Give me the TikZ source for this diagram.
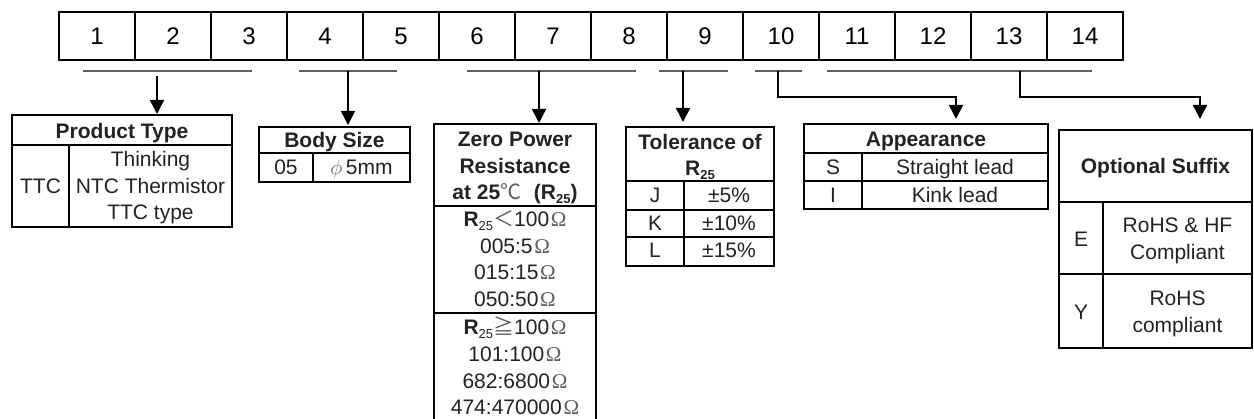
\documentclass[tikz,border=0pt]{standalone}
\usepackage{fontspec}
\setmainfont{Liberation Sans}
\newfontfamily\cjk{Noto Sans CJK SC}
\newfontfamily\sersym{Liberation Serif}
\usetikzlibrary{arrows.meta}
\definecolor{ulgray}{RGB}{95,95,95}
\definecolor{txt}{RGB}{35,35,35}
\definecolor{sym}{RGB}{95,95,95}
\newcommand\Om{{\sersym\color{sym}\hspace{0.08em}Ω}}
\newcommand\Rtf{\textbf{R}\raisebox{-0.35ex}{\fontsize{13}{13}\selectfont 25}}
\newcommand\Rbold{\textbf{R\raisebox{-0.35ex}{\fontsize{13}{13}\selectfont 25}}}
\newcommand\csym[1]{{\cjk\mdseries\color{sym}#1}}
\begin{document}
\begin{tikzpicture}[x=1pt,y=-1pt,
  cell/.style={draw, line width=2pt, minimum width=76pt, minimum height=48pt, inner sep=0pt, font=\fontsize{24}{24}\selectfont},
  tbl/.style={draw, line width=2pt, inner sep=0pt},
  tx/.style={anchor=base, inner sep=0pt, text=txt, font=\fontsize{21}{21}\selectfont},
  hd/.style={anchor=base, inner sep=0pt, text=txt, font=\fontsize{21}{21}\selectfont\bfseries},
  uline/.style={draw=ulgray, line width=2pt},
  sepline/.style={line width=2pt},
  conn/.style={line width=1.6pt, -{Triangle[width=14pt,length=14pt]}}]
\useasboundingbox (0,0) rectangle (1254,419);
\fill[white] (0,0) rectangle (1254,419);

% top code cells
\foreach \i in {1,...,14} \node[cell] (c\i) at ({59+76*\i-38},36) {\i};

% underlines
\coordinate (a1) at (83,71);  \coordinate (b1) at (252,71);
\coordinate (a2) at (299,71); \coordinate (b2) at (397,71);
\coordinate (a3) at (467,71); \coordinate (b3) at (636,71);
\coordinate (a4) at (659,71); \coordinate (b4) at (728,71);
\coordinate (a5) at (755,71); \coordinate (b5) at (802,71);
\coordinate (a6) at (827,71); \coordinate (b6) at (1092,71);
\foreach \k in {1,...,6} \draw[uline] (a\k) -- (b\k);

% tables (outer boxes)
\node[tbl, minimum width=220pt, minimum height=112pt] (pt) at (122,171) {};
\node[tbl, minimum width=151pt, minimum height=55pt] (bs) at (334.5,154.5) {};
\node[tbl, minimum width=162pt, minimum height=297pt] (zp) at (515,272.5) {};
\node[tbl, minimum width=148pt, minimum height=139pt] (to) at (700,196.5) {};
\node[tbl, minimum width=244pt, minimum height=85pt] (ap) at (926,166.5) {};
\node[tbl, minimum width=193pt, minimum height=218pt] (os) at (1155.5,239) {};

% inner lines
\draw[sepline] (12,145) -- (232,145) (69,145) -- (69,227);
\draw[sepline] (259,153) -- (410,153) (313,153) -- (313,182);
\draw[sepline] (434,206) -- (596,206) (434,313) -- (596,313);
\draw[sepline] (626,181) -- (774,181) (626,210) -- (774,210) (626,237) -- (774,237) (684,181) -- (684,266);
\draw[sepline] (804,153) -- (1048,153) (804,181) -- (1048,181) (862,153) -- (862,209);
\draw[sepline] (1059,202) -- (1252,202) (1059,274) -- (1252,274) (1103,202) -- (1103,348);

% Product Type
\node[hd] (pth) at (122,138.5) {Product Type};
\node[tx] (ptk) at (40.5,193.5) {TTC};
\node[tx] (pt1) at (150.5,167) {Thinking};
\node[tx] (pt2) at (150.5,193.5) {NTC Thermistor};
\node[tx] (pt3) at (150.5,219.5) {TTC type};

% Body Size
\node[hd] (bsh) at (334.5,147.5) {Body Size};
\node[tx] (bsk) at (286,175) {05};
\node[tx] (bsv) at (361.5,175) {{\color{sym}$\phi$}\,5mm};

% Zero Power Resistance
\node[hd] (zph1) at (515,147) {Zero Power};
\node[hd] (zph2) at (515,174) {Resistance};
\node[hd] (zph3) at (515,200) {at 25\csym{℃}\hspace{0.6em}(\Rbold)};
\node[tx] (zp1) at (515,226.5) {\Rtf\csym{＜}100\Om};
\node[tx] (zp2) at (515,253.5) {005:5\Om};
\node[tx] (zp3) at (515,280) {015:15\Om};
\node[tx] (zp4) at (515,307) {050:50\Om};
\node[tx] (zp5) at (515,335) {\Rtf\csym{≧}100\Om};
\node[tx] (zp6) at (515,362) {101:100\Om};
\node[tx] (zp7) at (515,388.5) {682:6800\Om};
\node[tx] (zp8) at (515,415) {474:470000\Om};

% Tolerance
\node[hd] (toh1) at (700,150) {Tolerance of};
\node[hd] (toh2) at (700,176) {\Rbold};
\node[tx] (toj) at (655,203) {J};
\node[tx] (tojv) at (729,203) {±5\%};
\node[tx] (tok) at (655,230.5) {K};
\node[tx] (tokv) at (729,230.5) {±10\%};
\node[tx] (tol) at (655,258) {L};
\node[tx] (tolv) at (729,258) {±15\%};

% Appearance
\node[hd] (aph) at (926,146.5) {Appearance};
\node[tx] (aps) at (833,175) {S};
\node[tx] (apsv) at (955,175) {Straight lead};
\node[tx] (api) at (833,203) {I};
\node[tx] (apiv) at (955,203) {Kink lead};

% Optional Suffix
\node[hd] (osh) at (1155.5,174) {Optional Suffix};
\node[tx] (ose) at (1081,247) {E};
\node[tx] (ose1) at (1177.5,233) {RoHS \& HF};
\node[tx] (ose2) at (1177.5,260) {Compliant};
\node[tx] (osy) at (1081,320) {Y};
\node[tx] (osy1) at (1177.5,306) {RoHS};
\node[tx] (osy2) at (1177.5,333) {compliant};

% connectors
\coordinate (s1) at (157,76);
\coordinate (s2) at (348,71);
\coordinate (s3) at (539,71);
\coordinate (s4) at (683,71);
\coordinate (s5) at (778,71); \coordinate (k5) at (956,97);
\coordinate (s6) at (1020,71); \coordinate (k6) at (1200,97);
\draw[conn] (s1) -- (s1 |- pt.north);
\draw[conn, shorten >=1pt] (s2) -- (s2 |- bs.north);
\draw[conn] (s3) -- (s3 |- zp.north);
\draw[conn, shorten >=4pt] (s4) -- (s4 |- to.north);
\draw[conn, shorten >=4pt] (s5) |- (k5) -- (k5 |- ap.north);
\draw[conn, shorten >=10pt] (s6) |- (k6) -- (k6 |- os.north);
\end{tikzpicture}
\end{document}
